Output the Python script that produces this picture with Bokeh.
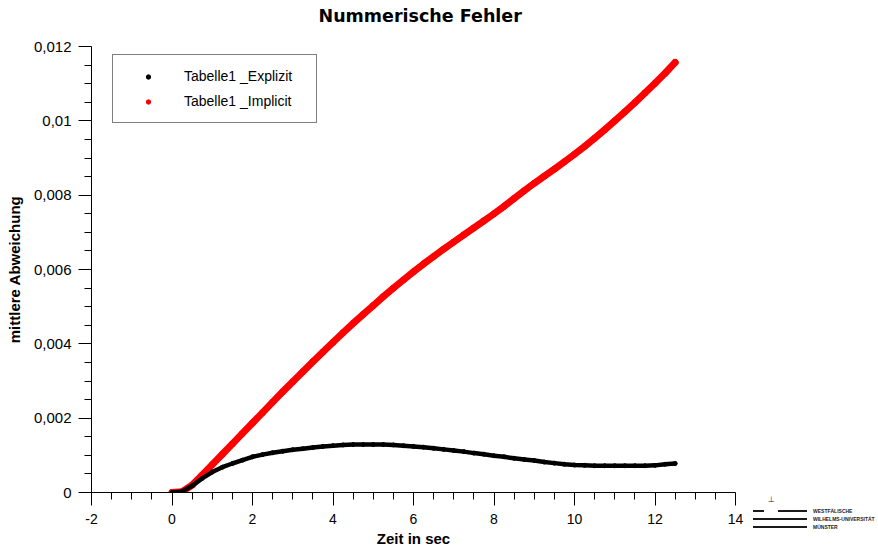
from bokeh.plotting import figure
from bokeh.models import (FixedTicker, Legend, LegendItem, ColumnDataSource, Div, Title)
from bokeh.layouts import row
from bokeh.embed import file_html
from bokeh.resources import INLINE

# ---- data ----
t = [0.0, 0.25, 0.5, 0.75, 1.0, 1.25, 1.5, 1.75, 2.0, 2.25, 2.5, 2.75, 3.0, 3.25, 3.5, 3.75,
     4.0, 4.25, 4.5, 4.75, 5.0, 5.25, 5.5, 5.75, 6.0, 6.25, 6.5, 6.75, 7.0, 7.25, 7.5, 7.75,
     8.0, 8.25, 8.5, 8.75, 9.0, 9.25, 9.5, 9.75, 10.0, 10.25, 10.5, 10.75, 11.0, 11.25, 11.5,
     11.75, 12.0, 12.25, 12.5]
implicit = [0.00000, 0.00002, 0.00020, 0.00047, 0.00075, 0.00103, 0.00131, 0.00159, 0.00187,
            0.00215, 0.00243, 0.00271, 0.00298, 0.00325, 0.00352, 0.00378, 0.00404, 0.00430,
            0.00455, 0.00479, 0.00503, 0.00527, 0.00550, 0.00572, 0.00594, 0.00615, 0.00635,
            0.00655, 0.00674, 0.00693, 0.00712, 0.00731, 0.00750, 0.00770, 0.00791, 0.00812,
            0.00832, 0.00851, 0.00870, 0.00890, 0.00910, 0.00931, 0.00953, 0.00976, 0.01000,
            0.01024, 0.01049, 0.01075, 0.01101, 0.01128, 0.01157]
explicit = [0.00000, 0.00003, 0.00018, 0.00038, 0.00055, 0.00068, 0.00078, 0.00087, 0.00096,
            0.00102, 0.00107, 0.00111, 0.00115, 0.00118, 0.00121, 0.00124, 0.00126, 0.00128,
            0.00129, 0.00129, 0.00129, 0.00129, 0.00128, 0.00126, 0.00124, 0.00122, 0.00119,
            0.00116, 0.00113, 0.00110, 0.00106, 0.00103, 0.00099, 0.00096, 0.00092, 0.00089,
            0.00086, 0.00082, 0.00079, 0.00076, 0.00074, 0.00073, 0.00072, 0.00072, 0.00072,
            0.00072, 0.00072, 0.00072, 0.00073, 0.00076, 0.00078]

x_ticks = [-2, 0, 2, 4, 6, 8, 10, 12, 14]
x_tick_labels = ["-2", "0", "2", "4", "6", "8", "10", "12", "14"]
x_minor = [-1.5, -1, -0.5, 0.5, 1, 1.5, 2.5, 3, 3.5, 4.5, 5, 5.5, 6.5, 7, 7.5, 8.5, 9, 9.5,
           10.5, 11, 11.5, 12.5, 13, 13.5]
y_ticks = [0, 0.002, 0.004, 0.006, 0.008, 0.01, 0.012]
y_tick_labels = ["0", "0,002", "0,004", "0,006", "0,008", "0,01", "0,012"]
y_minor = [0.0005, 0.001, 0.0015, 0.0025, 0.003, 0.0035, 0.0045, 0.005, 0.0055, 0.0065, 0.007,
           0.0075, 0.0085, 0.009, 0.0095, 0.0105, 0.011, 0.0115]

chart_title = "Nummerische Fehler"
series_labels = ["Tabelle1 _Explizit", "Tabelle1 _Implicit"]
logo_lines = ["WESTFÄLISCHE", "WILHELMS-UNIVERSITÄT", "MÜNSTER"]

src = ColumnDataSource(dict(t=t, imp=implicit, exp=explicit))

p = figure(width=752, height=549, x_range=(-2, 14), y_range=(0, 0.012), title=None,
           output_backend="svg", toolbar_location=None,
           min_border_left=91, min_border_right=17, min_border_top=46, min_border_bottom=57)
p.outline_line_color = None
p.grid.visible = False
p.background_fill_color = "white"
p.border_fill_color = "white"

# spacer (closest to the frame) then the real title above it
p.add_layout(Title(text=" ", text_font_size="1px", standoff=18), "above")
p.add_layout(Title(text=chart_title, align="left", offset=227, standoff=0,
                   vertical_align="bottom", text_font="DejaVu Sans",
                   text_font_style="bold", text_font_size="17.5px", text_color="black"),
             "above")

p.xaxis.ticker = FixedTicker(ticks=x_ticks, minor_ticks=x_minor)
p.yaxis.ticker = FixedTicker(ticks=y_ticks, minor_ticks=y_minor)
p.xaxis.major_label_overrides = {float(k): v for k, v in zip(x_ticks, x_tick_labels)}
p.yaxis.major_label_overrides = {float(k): v for k, v in zip(y_ticks, y_tick_labels)}

for ax in (p.xaxis[0], p.yaxis[0]):
    ax.axis_line_color = "black"
    ax.major_tick_line_color = "black"
    ax.minor_tick_line_color = "black"
    ax.major_tick_out = 13
    ax.major_tick_in = 0
    ax.minor_tick_out = 7
    ax.minor_tick_in = 0
    ax.major_label_text_font = "Liberation Sans"
    ax.major_label_text_color = "black"
    ax.axis_label_text_font = "Liberation Sans"
    ax.axis_label_text_font_style = "bold"
    ax.axis_label_text_font_size = "15px"
    ax.axis_label_text_color = "black"

p.xaxis.major_label_text_font_size = "14px"
p.yaxis.major_label_text_font_size = "15px"
p.xaxis.axis_label = "Zeit in sec"
p.xaxis.major_label_standoff = 8
p.xaxis.axis_label_standoff = 3
p.yaxis.axis_label = "mittlere Abweichung"
p.yaxis.major_label_standoff = 7
p.yaxis.axis_label_standoff = 8

# curves
p.line("t", "imp", source=src, line_color="#ff0000", line_width=7, line_cap="round", line_join="round")
s_imp = p.scatter("t", "imp", source=src, size=6, color="#ff0000")
p.line("t", "exp", source=src, line_color="black", line_width=4.5, line_cap="round", line_join="round")
s_exp = p.scatter("t", "exp", source=src, size=4, color="black")

legend = Legend(items=[LegendItem(label=series_labels[0], renderers=[s_exp]),
                       LegendItem(label=series_labels[1], renderers=[s_imp])],
                location=(21, 369), padding=11, spacing=5, glyph_width=48, glyph_height=11,
                label_standoff=12, label_width=121, label_height=20, margin=0,
                border_line_color="black", border_line_width=1,
                label_text_font="Liberation Sans", label_text_font_size="14px",
                label_text_color="black", background_fill_alpha=1.0)
p.add_layout(legend)

# university logo (decoration) in a side panel
bar = "position:absolute;height:2px;background:#1a1a1a;"
txt = ("position:absolute;left:61px;font-family:'Liberation Sans';font-size:5px;"
       "line-height:6px;font-weight:bold;color:#222;white-space:nowrap;")
logo_html = (
    '<div style="position:relative;width:126px;height:549px;background:white;">'
    '<div style="position:absolute;left:16px;top:495px;font-family:\'DejaVu Sans\';'
    'font-size:8px;line-height:9px;color:#222;">⊥</div>'
    f'<div style="{bar}left:1px;top:510px;width:11px;"></div>'
    f'<div style="{bar}left:26px;top:510px;width:29px;"></div>'
    f'<div style="{bar}left:1px;top:518px;width:54px;"></div>'
    f'<div style="{bar}left:1px;top:526px;width:54px;"></div>'
    f'<div style="{txt}top:508px;">{logo_lines[0]}</div>'
    f'<div style="{txt}top:516px;">{logo_lines[1]}</div>'
    f'<div style="{txt}top:524px;">{logo_lines[2]}</div>'
    '</div>'
)
logo = Div(text=logo_html, width=126, height=549, margin=0)

layout = row(p, logo, spacing=0)
open("out.html", "w").write(file_html(layout, INLINE))
